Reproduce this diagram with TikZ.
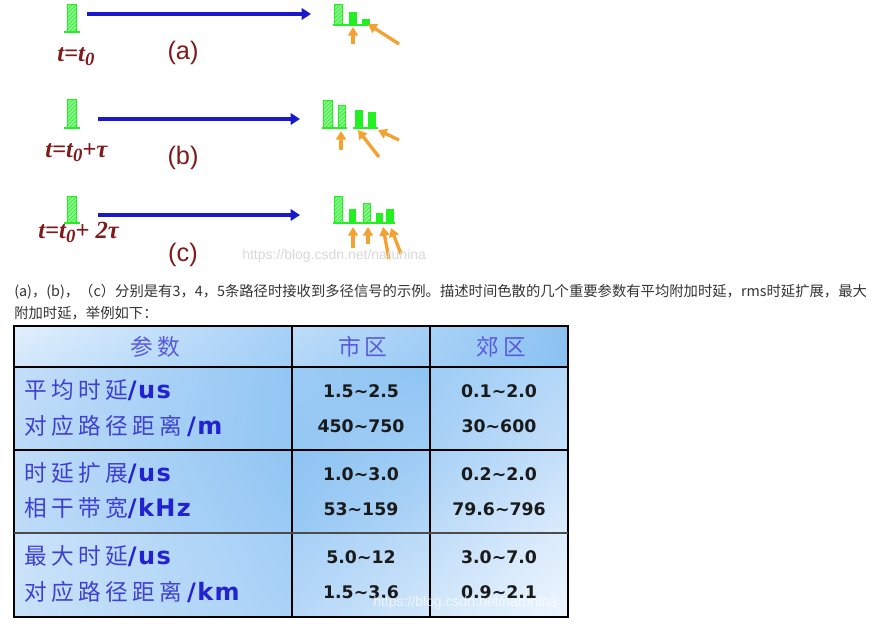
\documentclass[tikz,border=0pt]{standalone}
\usepackage{fontspec}
\setmainfont{Liberation Sans}
\newfontfamily\cjk{Noto Sans CJK SC}
\newfontfamily\cjkls{Noto Sans CJK SC}[LetterSpace=19]
\newfontfamily\tnr{Liberation Serif}
\newfontfamily\dvs{DejaVu Sans}
\newfontfamily\dvsls{DejaVu Sans}[LetterSpace=6]
\usetikzlibrary{arrows.meta,patterns,shadings}
\definecolor{gbar}{HTML}{22F022}
\definecolor{ghatch}{HTML}{8AF58A}
\definecolor{bluearr}{HTML}{1A1ACC}
\definecolor{orangearr}{HTML}{F3A232}
\definecolor{darkred}{HTML}{7E1C1C}
\definecolor{capgray}{HTML}{333333}
\definecolor{hdrblue}{HTML}{5A5ADC}
\definecolor{lblblue}{HTML}{4040D0}
\definecolor{unitblue}{HTML}{2222D0}
\definecolor{numblack}{HTML}{1A1A1A}
\newcommand\hatchbar[4]{%
  \fill[ghatch] (#1,#2) rectangle (#3,#4);
  \fill[pattern=north east lines, pattern color=gbar] (#1,#2) rectangle (#3,#4);
  \draw[gbar, line width=0.6pt] (#1,#2) rectangle (#3,#4);}
\newcommand\solidbar[4]{\fill[gbar] (#1,#2) rectangle (#3,#4);}
\newcommand\cellshade[8]{%
  \definecolor{cUL}{HTML}{#5}\definecolor{cUR}{HTML}{#6}%
  \definecolor{cLL}{HTML}{#7}\definecolor{cLR}{HTML}{#8}%
  \shade[upper left=cUL, upper right=cUR, lower left=cLL, lower right=cLR] (#1,#2) rectangle (#3,#4);}
\tikzset{
  bluearrow/.style={bluearr, line width=3pt, -{Triangle[length=7pt,width=8.5pt]}},
  orangearrow/.style={orangearr, line width=2.5pt, -{Triangle[length=6.5pt,width=7.5pt]}},
  baseln/.style={gbar, line width=1.3pt},
  redlabel/.style={darkred, inner sep=0pt, font=\tnr\bfseries\itshape\fontsize{18.5pt}{20pt}\selectfont},
  caselabel/.style={darkred, inner sep=0pt, font=\fontsize{19pt}{21pt}\selectfont},
  captext/.style={capgray, inner sep=0pt, anchor=west, font=\cjk\fontsize{10.75pt}{12pt}\selectfont},
  watermark/.style={inner sep=0pt, font=\fontsize{10.5pt}{12pt}\selectfont},
  hdr/.style={hdrblue, inner sep=0pt, font=\cjkls\fontsize{17pt}{19pt}\selectfont},
  lbl/.style={lblblue, inner sep=0pt, anchor=west, font=\cjkls\fontsize{17pt}{19pt}\selectfont},
  num/.style={numblack, inner sep=0pt, font=\dvs\bfseries\fontsize{13pt}{15pt}\selectfont},
  grid/.style={black, line width=2pt}
}
\newcommand\unit[1]{{\color{unitblue}\dvsls\bfseries\fontsize{18pt}{20pt}\selectfont #1}}
\newcommand\sub[1]{\raisebox{-0.35ex}{\fontsize{14pt}{14pt}\selectfont #1}}
\begin{document}
\begin{tikzpicture}[x=0.75pt,y=-0.75pt]
\useasboundingbox (0,0) rectangle (873,625);
\fill[white] (0,0) rectangle (873,625);
% ---- (a)
\hatchbar{67}{4}{76}{32}
\draw[baseln] (64,32) -- (80,32);
\coordinate (a1) at (87,14); \coordinate (a2) at (311,14);
\draw[bluearrow] (a1) -- (a2);
\hatchbar{334}{4}{342}{25}
\solidbar{349}{12}{357}{25}
\solidbar{362}{19}{370}{25}
\draw[baseln] (333,25) -- (372,25);
\draw[orangearrow] (353,44) -- (353,27);
\draw[orangearrow] (399,44) -- (368,24);
\node[redlabel, anchor=west] (ta) at (57,57) {t=t\sub{0}};
\node[caselabel] (la) at (183,53) {(a)};
% ---- (b)
\hatchbar{67}{99}{76}{128}
\draw[baseln] (64,128) -- (80,128);
\coordinate (b1) at (98,119); \coordinate (b2) at (300,119);
\draw[bluearrow] (b1) -- (b2);
\hatchbar{323}{100}{332}{128}
\hatchbar{338}{105}{345}{128}
\solidbar{355}{110}{363}{128}
\solidbar{368}{112}{376}{128}
\draw[baseln] (322,128) -- (347,128);
\draw[baseln] (353,128) -- (378,128);
\draw[orangearrow] (341,150) -- (341,131);
\draw[orangearrow] (379,157) -- (358,130);
\draw[orangearrow] (399,140) -- (378,130);
\node[redlabel, anchor=west] (tb) at (45,153) {t=t\sub{0}+τ};
\node[caselabel] (lb) at (183,158) {(b)};
% ---- (c)
\hatchbar{67}{196}{76}{223}
\draw[baseln] (64,223) -- (80,223);
\coordinate (c1) at (98,215); \coordinate (c2) at (300,215);
\draw[bluearrow] (c1) -- (c2);
\hatchbar{334}{196}{342}{223}
\solidbar{349}{209}{356}{223}
\hatchbar{363}{203}{370}{223}
\solidbar{376}{213}{383}{223}
\solidbar{386}{209}{394}{223}
\draw[baseln] (333,223) -- (395,223);
\draw[orangearrow] (353,248) -- (353,227);
\draw[orangearrow] (368,244) -- (368,227);
\draw[orangearrow] (389,259) -- (383,227);
\draw[orangearrow] (401,254) -- (391,228);
\node[redlabel, anchor=west] (tc) at (38,232) {t=t\sub{0}+ 2τ};
\node[caselabel] (lc) at (183,255) {(c)};
\node[watermark, gray!30, anchor=west] (wm1) at (242,256) {https://blog.csdn.net/narunina};
% ---- caption
\node[captext] (cap1) at (14,292) {(a)，(b)，（c）分别是有3，4，5条路径时接收到多径信号的示例。描述时间色散的几个重要参数有平均附加时延，rms时延扩展，最大};
\node[captext] (cap2) at (14,313) {附加时延，举例如下：};
% ---- table backgrounds
\cellshade{14}{326}{292}{367}{E2F0FD}{A6D0F7}{D2E7FB}{A0CDF6}
\cellshade{292}{326}{430}{367}{BEDDF9}{A4CFF6}{B0D6F7}{9CCBF5}
\cellshade{430}{326}{568}{367}{A8D2F6}{8CC2F2}{A4CFF6}{8AC1F2}
\cellshade{14}{367}{292}{450}{C4DEF9}{92C6F4}{BCDAF8}{92C6F4}
\cellshade{292}{367}{430}{450}{9CCBF5}{8EC4F3}{94C7F4}{A0CDF5}
\cellshade{430}{367}{568}{450}{9ECCF5}{B4D8F8}{A8D1F6}{C4DFF9}
\cellshade{14}{450}{292}{533}{C0DCF8}{90C5F3}{BEDBF8}{9ACAF5}
\cellshade{292}{450}{430}{533}{8EC3F3}{9ECCF5}{98C9F4}{B4D7F7}
\cellshade{430}{450}{568}{533}{A8D1F6}{C4DFF9}{BEDCF8}{DCECFC}
\cellshade{14}{533}{292}{617}{CCE3FA}{A2CEF6}{C8E1F9}{AAD2F6}
\cellshade{292}{533}{430}{617}{A6D0F6}{BCDBF8}{B6D8F8}{D2E7FB}
\cellshade{430}{533}{568}{617}{C0DCF8}{DCECFC}{D4E8FB}{EEF6FE}
% ---- table lines
\draw[grid] (14,326) rectangle (568,617);
\draw[grid] (292,326) -- (292,617);
\draw[grid] (430,326) -- (430,617);
\draw[grid] (14,367) -- (568,367);
\draw[grid] (14,450) -- (568,450);
\draw[black!70, line width=1.2pt] (14,533) -- (568,533);
% ---- table texts
\node[hdr] (h1) at (155,347) {参数};
\node[hdr] (h2) at (363,347) {市\,区};
\node[hdr] (h3) at (501,347) {郊区};
\node[lbl] (r1a) at (24,390) {平均时延\unit{/us}};
\node[lbl] (r1b) at (24,426) {对应路径距离\hspace{4pt}\unit{/m}};
\node[lbl] (r2a) at (24,473) {时延扩展\unit{/us}};
\node[lbl] (r2b) at (24,508) {相干带宽\unit{/kHz}};
\node[lbl] (r3a) at (24,556) {最大时延\unit{/us}};
\node[lbl] (r3b) at (24,592) {对应路径距离\hspace{4pt}\unit{/km}};
\node[num] (n11) at (361,391) {1.5\char`~2.5};
\node[num] (n12) at (499,391) {0.1\char`~2.0};
\node[num] (n21) at (361,426) {450\char`~750};
\node[num] (n22) at (499,426) {30\char`~600};
\node[num] (n31) at (361,474) {1.0\char`~3.0};
\node[num] (n32) at (499,474) {0.2\char`~2.0};
\node[num] (n41) at (361,509) {53\char`~159};
\node[num] (n42) at (499,509) {79.6\char`~796};
\node[num] (n51) at (361,557) {5.0\char`~12};
\node[num] (n52) at (499,557) {3.0\char`~7.0};
\node[num] (n61) at (361,592) {1.5\char`~3.6};
\node[num] (n62) at (499,592) {0.9\char`~2.1};
\node[watermark, white, opacity=0.7, anchor=west] (wm2) at (373,603) {https://blog.csdn.net/narunina};
\end{tikzpicture}
\end{document}
